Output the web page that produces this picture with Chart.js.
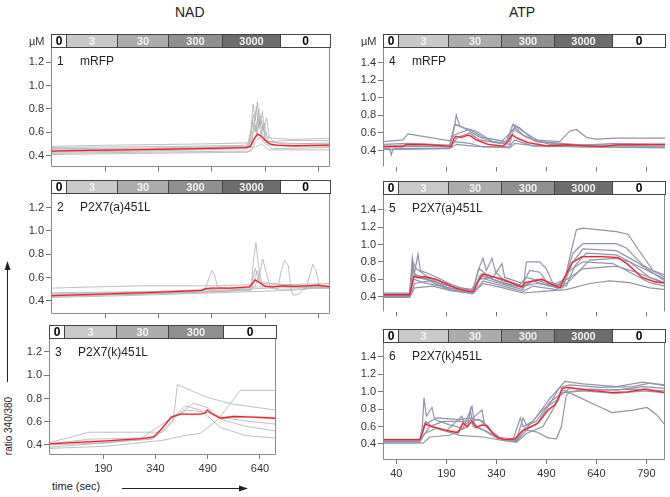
<!DOCTYPE html>
<html>
<head>
<meta charset="utf-8">
<script src="https://cdn.jsdelivr.net/npm/chart.js@4.4.0/dist/chart.umd.min.js"></script>
<style>
body { margin: 0; background: #fff; font-family: Arial, "Liberation Sans", sans-serif; }
#page { position: relative; width: 670px; height: 497px; overflow: hidden; background: #fff; }
.txt { position: absolute; color: #222; white-space: nowrap; }
</style>
</head>
<body>
<div id="page">
  <div class="txt" style="left:175px;top:4px;font-size:14px;">NAD</div>
  <div class="txt" style="left:509px;top:4px;font-size:14px;">ATP</div>
  <div class="txt" style="left:0px;top:426px;font-size:10px;transform-origin:0 0;transform:rotate(-90deg) translate(-32px, 3px);width:64px;text-align:center;">ratio 340/380</div>
  <div class="txt" style="left:52px;top:480px;font-size:11px;">time (sec)</div>
  <svg style="position:absolute;left:0;top:0" width="670" height="497">
    <line x1="7.5" y1="382" x2="7.5" y2="268" stroke="#222" stroke-width="1"/>
    <polygon points="7.5,261 4.5,270 10.5,270" fill="#222"/>
    <line x1="122" y1="488.5" x2="241" y2="488.5" stroke="#222" stroke-width="1"/>
    <polygon points="248,488.5 239,485.5 239,491.5" fill="#222"/>
  </svg>
</div>
<script>
// Concentration steps (µM) and their time limits (sec)
const nadSteps = ['0', '3', '30', '300', '3000', '0'];
const nadBounds = [38, 80, 223, 367, 518, 681, 822];
const nad3Steps = ['0', '3', '30', '300', '0'];
const nad3Bounds = [34, 77, 227, 377, 533, 686];
const atpSteps = ['0', '3', '30', '300', '3000', '0'];
const atpBounds = [0, 45, 195, 355, 513, 688, 846];

// Tick labels
const leftYTicks = [0.4, 0.6, 0.8, 1.0, 1.2];
const rightYTicks = [0.4, 0.6, 0.8, 1.0, 1.2, 1.4];
const nadXTicks = [190, 340, 490, 640, 790];
const nad3XTicks = [190, 340, 490, 640];
const atpXTicks = [40, 190, 340, 490, 640, 790];

// Panel 1: NAD, mRFP  ([time, ratio])
const nad1Mean = [[38,0.44],[150,0.445],[300,0.452],[450,0.46],[585,0.47],[598,0.48],[608,0.54],[618,0.585],[628,0.57],[640,0.53],[655,0.50],[670,0.49],[720,0.485],[822,0.49]];
const nad1Cells = [
  [[38,0.47],[200,0.475],[400,0.48],[590,0.49],[600,0.62],[606,0.84],[612,0.70],[618,0.86],[625,0.66],[632,0.78],[640,0.55],[650,0.52],[700,0.53],[822,0.53]],
  [[38,0.43],[300,0.44],[590,0.46],[600,0.58],[607,0.75],[614,0.62],[622,0.80],[630,0.60],[645,0.50],[700,0.48],[822,0.49]],
  [[38,0.45],[250,0.455],[500,0.47],[595,0.48],[604,0.70],[612,0.60],[620,0.72],[628,0.58],[638,0.68],[648,0.52],[700,0.50],[822,0.51]],
  [[38,0.42],[300,0.43],[600,0.44],[612,0.52],[625,0.56],[640,0.50],[660,0.46],[822,0.47]],
  [[38,0.48],[200,0.49],[450,0.50],[598,0.51],[610,0.66],[618,0.60],[626,0.74],[634,0.64],[645,0.56],[660,0.55],[720,0.54],[822,0.55]],
  [[38,0.41],[300,0.42],[590,0.43],[610,0.47],[630,0.50],[650,0.45],[822,0.45]],
  [[38,0.44],[250,0.45],[500,0.46],[600,0.47],[608,0.64],[615,0.82],[621,0.64],[629,0.70],[640,0.55],[655,0.49],[822,0.48]],
  [[38,0.46],[300,0.465],[600,0.48],[614,0.58],[622,0.68],[634,0.62],[644,0.72],[652,0.55],[670,0.51],[822,0.50]]
];

// Panel 2: NAD, P2X7(a)451L
const nad2Mean = [[38,0.445],[200,0.46],[350,0.475],[460,0.49],[472,0.505],[490,0.51],[540,0.51],[595,0.52],[604,0.55],[612,0.58],[622,0.56],[640,0.525],[660,0.52],[690,0.53],[720,0.525],[760,0.53],[790,0.535],[822,0.52]];
const nad2Cells = [
  [[38,0.46],[200,0.47],[350,0.48],[470,0.49],[480,0.58],[490,0.66],[498,0.62],[506,0.52],[560,0.50],[600,0.52],[822,0.53]],
  [[38,0.44],[300,0.46],[500,0.48],[600,0.50],[607,0.75],[614,0.90],[621,0.70],[630,0.56],[660,0.52],[822,0.51]],
  [[38,0.47],[300,0.48],[500,0.50],[610,0.52],[622,0.60],[633,0.76],[642,0.65],[652,0.54],[822,0.52]],
  [[38,0.45],[300,0.46],[500,0.49],[650,0.51],[675,0.50],[685,0.66],[695,0.75],[705,0.70],[712,0.50],[720,0.45],[735,0.46],[750,0.51],[822,0.52]],
  [[38,0.43],[300,0.45],[500,0.47],[700,0.49],[755,0.50],[765,0.62],[774,0.715],[783,0.66],[792,0.53],[822,0.52]],
  [[38,0.51],[150,0.52],[300,0.53],[500,0.53],[600,0.54],[612,0.68],[622,0.56],[700,0.54],[822,0.55]],
  [[38,0.44],[400,0.47],[600,0.49],[610,0.60],[618,0.66],[628,0.54],[680,0.50],[822,0.51]]
];

// Panel 3: NAD, P2X7(k)451L
const nad3Mean = [[34,0.41],[100,0.42],[200,0.435],[300,0.455],[335,0.47],[355,0.53],[385,0.64],[412,0.665],[470,0.665],[482,0.675],[489,0.70],[497,0.68],[507,0.66],[527,0.63],[564,0.645],[622,0.64],[686,0.63]];
const nad3Cells = [
  [[34,0.42],[100,0.47],[150,0.51],[360,0.51],[390,0.60],[403,0.92],[440,0.87],[489,0.81],[500,0.80],[564,0.75],[686,0.70]],
  [[34,0.38],[200,0.42],[330,0.45],[360,0.52],[400,0.65],[449,0.76],[489,0.72],[530,0.62],[600,0.56],[686,0.52]],
  [[34,0.40],[200,0.42],[330,0.46],[370,0.58],[426,0.735],[470,0.70],[527,0.55],[600,0.48],[686,0.46]],
  [[34,0.37],[200,0.39],[360,0.44],[420,0.48],[469,0.50],[520,0.62],[584,0.87],[686,0.87]],
  [[34,0.41],[150,0.45],[300,0.46],[380,0.62],[430,0.70],[489,0.68],[540,0.63],[620,0.60],[686,0.58]]
];

// Panel 4: ATP, mRFP
const atp4Mean = [[0,0.445],[60,0.445],[70,0.47],[120,0.47],[195,0.45],[205,0.445],[212,0.53],[218,0.56],[235,0.55],[255,0.575],[265,0.56],[280,0.52],[315,0.47],[360,0.45],[375,0.50],[387,0.58],[402,0.54],[435,0.49],[495,0.45],[555,0.465],[600,0.455],[657,0.445],[705,0.465],[846,0.47]];
const atp4Cells = [
  [[0,0.45],[70,0.46],[200,0.44],[212,0.62],[220,0.80],[230,0.68],[260,0.62],[290,0.55],[330,0.50],[370,0.48],[385,0.62],[395,0.66],[420,0.58],[460,0.50],[540,0.47],[650,0.45],[720,0.47],[846,0.46]],
  [[0,0.50],[60,0.52],[75,0.59],[120,0.56],[200,0.51],[215,0.58],[260,0.64],[300,0.55],[370,0.50],[390,0.70],[410,0.66],[450,0.52],[530,0.50],[560,0.62],[580,0.64],[610,0.55],[640,0.53],[700,0.54],[846,0.54]],
  [[0,0.42],[20,0.42],[25,0.35],[30,0.42],[200,0.43],[215,0.50],[260,0.48],[300,0.44],[380,0.45],[395,0.52],[450,0.45],[846,0.43]],
  [[0,0.41],[200,0.42],[220,0.47],[270,0.45],[380,0.43],[395,0.48],[440,0.46],[600,0.44],[846,0.44]],
  [[0,0.47],[75,0.48],[200,0.46],[215,0.70],[240,0.66],[280,0.62],[330,0.50],[380,0.47],[395,0.68],[420,0.62],[470,0.50],[600,0.46],[700,0.48],[846,0.47]],
  [[0,0.44],[200,0.45],[225,0.55],[260,0.60],[290,0.52],[350,0.48],[392,0.64],[430,0.55],[500,0.47],[846,0.45]]
];

// Panel 5: ATP, P2X7(a)451L
const atp5Mean = [[0,0.42],[80,0.42],[88,0.56],[92,0.63],[105,0.62],[125,0.63],[156,0.60],[195,0.54],[216,0.50],[255,0.46],[272,0.46],[285,0.57],[300,0.66],[327,0.63],[357,0.60],[396,0.54],[417,0.51],[426,0.56],[456,0.58],[477,0.60],[507,0.54],[531,0.50],[546,0.63],[567,0.79],[597,0.86],[657,0.86],[705,0.85],[735,0.77],[777,0.62],[816,0.57],[846,0.555]];
const atp5Cells = [
  [[0,0.41],[80,0.41],[90,0.70],[100,0.62],[150,0.58],[195,0.50],[270,0.45],[290,0.64],[310,0.62],[360,0.56],[420,0.50],[450,0.58],[500,0.52],[540,0.50],[560,0.85],[580,1.17],[600,1.19],[700,1.15],[735,1.12],[770,0.92],[810,0.70],[846,0.65]],
  [[0,0.43],[80,0.43],[88,0.85],[95,0.65],[108,0.62],[160,0.60],[200,0.52],[270,0.47],[285,0.70],[300,0.84],[310,0.70],[327,0.84],[338,0.68],[360,0.60],[420,0.52],[460,0.60],[520,0.55],[545,0.60],[570,0.90],[600,1.01],[700,1.01],[730,0.96],[780,0.76],[846,0.62]],
  [[0,0.40],[80,0.40],[90,0.58],[105,0.89],[112,0.70],[140,0.66],[200,0.55],[260,0.46],[290,0.60],[330,0.62],[357,0.78],[365,0.62],[420,0.55],[440,0.70],[470,0.68],[495,0.55],[540,0.52],[570,0.80],[600,0.95],[700,0.93],[760,0.80],[846,0.58]],
  [[0,0.39],[80,0.39],[95,0.50],[150,0.52],[200,0.47],[270,0.44],[300,0.55],[360,0.50],[420,0.44],[480,0.46],[550,0.48],[620,0.55],[680,0.58],[740,0.56],[800,0.50],[846,0.48]],
  [[0,0.42],[80,0.42],[90,0.80],[100,0.72],[130,0.64],[200,0.48],[270,0.44],[295,0.66],[340,0.58],[400,0.50],[430,0.62],[470,0.58],[520,0.50],[560,0.70],[600,0.80],[690,0.78],[740,0.68],[800,0.56],[846,0.52]],
  [[0,0.41],[80,0.41],[92,0.60],[120,0.56],[200,0.50],[270,0.45],[290,0.62],[350,0.55],[420,0.48],[430,0.80],[470,0.80],[490,0.72],[510,0.55],[550,0.52],[575,0.75],[610,0.90],[700,0.88],[750,0.78],[846,0.60]],
  [[0,0.44],[80,0.44],[88,0.75],[96,0.66],[130,0.60],[200,0.52],[270,0.48],[288,0.72],[310,0.66],[360,0.58],[420,0.52],[460,0.55],[520,0.52],[560,0.62],[600,0.72],[700,0.75],[760,0.68],[846,0.55]],
  [[0,0.40],[80,0.40],[95,0.55],[140,0.58],[200,0.47],[270,0.43],[300,0.58],[360,0.52],[420,0.46],[450,0.52],[520,0.48],[560,0.58],[620,0.82],[700,0.84],[740,0.80],[800,0.62],[846,0.56]]
];

// Panel 6: ATP, P2X7(k)451L
const atp6Mean = [[0,0.45],[111,0.45],[120,0.55],[126,0.63],[146,0.60],[186,0.56],[225,0.53],[240,0.64],[252,0.60],[267,0.66],[280,0.59],[297,0.62],[312,0.61],[330,0.52],[345,0.47],[366,0.45],[396,0.46],[417,0.55],[435,0.58],[465,0.64],[495,0.79],[516,0.85],[525,0.91],[537,1.04],[555,1.05],[615,1.02],[687,0.99],[735,1.00],[786,1.03],[846,0.99]];
const atp6Cells = [
  [[0,0.43],[110,0.43],[118,0.60],[123,0.93],[130,0.72],[147,0.82],[155,0.68],[200,0.62],[240,0.58],[267,0.83],[275,0.62],[300,0.56],[345,0.46],[400,0.44],[420,0.55],[440,0.62],[480,0.80],[520,0.90],[540,1.02],[570,0.97],[620,0.88],[687,0.76],[750,0.79],[792,0.82],[820,0.74],[846,0.62]],
  [[0,0.44],[110,0.44],[125,0.62],[160,0.70],[230,0.68],[260,0.70],[300,0.66],[330,0.52],[360,0.45],[400,0.44],[420,0.70],[430,0.62],[450,0.66],[500,0.92],[530,1.05],[545,1.12],[600,1.09],[700,1.06],[780,1.11],[846,1.07]],
  [[0,0.42],[110,0.42],[125,0.52],[160,0.58],[230,0.50],[300,0.48],[360,0.44],[400,0.43],[430,0.56],[460,0.54],[495,0.47],[520,0.46],[535,0.60],[550,0.96],[560,1.0],[620,1.03],[700,1.02],[780,1.06],[846,1.04]],
  [[0,0.45],[110,0.45],[128,0.66],[147,0.60],[190,0.55],[237,0.72],[245,0.62],[297,0.79],[305,0.62],[340,0.48],[400,0.45],[425,0.58],[460,0.62],[500,0.86],[530,1.05],[560,1.08],[650,1.05],[750,1.06],[800,1.10],[846,1.08]],
  [[0,0.43],[110,0.43],[140,0.60],[180,0.66],[240,0.66],[290,0.68],[320,0.56],[360,0.45],[390,0.45],[412,0.70],[420,0.60],[460,0.66],[500,0.88],[540,0.99],[600,1.01],[700,0.98],[780,1.01],[846,0.99]],
  [[0,0.41],[120,0.41],[140,0.48],[200,0.50],[255,0.60],[262,0.80],[270,0.60],[310,0.55],[360,0.44],[400,0.42],[430,0.52],[480,0.60],[510,0.80],[530,0.95],[560,1.04],[650,1.02],[750,1.03],[846,1.01]]
];

Chart.defaults.font.family = 'Arial, "Liberation Sans", sans-serif';

const stepColors = { '0': '#ffffff', '3': '#c9c9c9', '30': '#acacac', '300': '#8f8f8f', '3000': '#6d6d6d' };
const leftCell = { color: '#b0b0b0', width: 0.8 };
const rightCell = { color: '#9294ab', width: 1.2 };

const panels = [
  { box: [51, 47, 330, 168], x: [38, 822], y: [0.30, 1.33], yTicks: leftYTicks, xTicks: nadXTicks, xLabels: false,
    steps: nadSteps, bounds: nadBounds, num: '1', name: 'mRFP', unit: true, frame: 'box', mean: nad1Mean, cells: nad1Cells, cell: leftCell },
  { box: [51, 193, 330, 315], x: [38, 822], y: [0.285, 1.325], yTicks: leftYTicks, xTicks: nadXTicks, xLabels: false,
    steps: nadSteps, bounds: nadBounds, num: '2', name: 'P2X7(a)451L', unit: false, frame: 'box', mean: nad2Mean, cells: nad2Cells, cell: leftCell },
  { box: [49, 338, 276, 455], x: [34, 686], y: [0.314, 1.32], yTicks: leftYTicks, xTicks: nad3XTicks, xLabels: true,
    steps: nad3Steps, bounds: nad3Bounds, num: '3', name: 'P2X7(k)451L', unit: false, frame: 'box', mean: nad3Mean, cells: nad3Cells, cell: leftCell },
  { box: [383, 47, 665, 168], x: [0, 846], y: [0.207, 1.58], yTicks: rightYTicks, xTicks: atpXTicks, xLabels: false,
    steps: atpSteps, bounds: atpBounds, num: '4', name: 'mRFP', unit: true, frame: 'left', mean: atp4Mean, cells: atp4Cells, cell: rightCell },
  { box: [383, 194, 665, 313], x: [0, 846], y: [0.216, 1.584], yTicks: rightYTicks, xTicks: atpXTicks, xLabels: false,
    steps: atpSteps, bounds: atpBounds, num: '5', name: 'P2X7(a)451L', unit: false, frame: 'leftright', mean: atp5Mean, cells: atp5Cells, cell: rightCell },
  { box: [383, 342, 665, 460], x: [0, 846], y: [0.216, 1.572], yTicks: rightYTicks, xTicks: atpXTicks, xLabels: true,
    steps: atpSteps, bounds: atpBounds, num: '6', name: 'P2X7(k)451L', unit: false, frame: 'box', mean: atp6Mean, cells: atp6Cells, cell: rightCell }
];

function toPts(arr) {
  return arr.map(p => ({ x: p[0], y: p[1] }));
}

// Frame, concentration strip and panel label
function decoPlugin(p) {
  return {
    id: 'deco',
    afterDraw(chart) {
      const ctx = chart.ctx;
      const a = chart.chartArea;
      const xs = chart.scales.x;
      const L = Math.round(a.left) + 0.5, R = Math.round(a.right) - 0.5;
      const T = Math.round(a.top) + 0.5, B = Math.round(a.bottom) - 0.5;
      ctx.save();
      ctx.strokeStyle = '#8a8a8a';
      ctx.lineWidth = 1;
      ctx.beginPath();
      ctx.moveTo(L, T); ctx.lineTo(L, B);
      if (p.frame === 'box') {
        ctx.lineTo(R, B); ctx.lineTo(R, T);
      }
      if (p.frame === 'leftright') {
        ctx.moveTo(R, T); ctx.lineTo(R, B);
      }
      ctx.stroke();

      // strip
      const sTop = T - 13;
      ctx.textAlign = 'center';
      ctx.textBaseline = 'middle';
      for (let i = 0; i < p.steps.length; i++) {
        const x0 = Math.round(xs.getPixelForValue(p.bounds[i])) + 0.5;
        const x1 = Math.round(xs.getPixelForValue(p.bounds[i + 1])) + 0.5;
        const s = p.steps[i];
        ctx.fillStyle = stepColors[s];
        ctx.fillRect(x0, sTop, x1 - x0, 13);
        ctx.strokeStyle = '#444';
        ctx.strokeRect(x0, sTop, x1 - x0, 13);
        if (s === '0') {
          ctx.fillStyle = '#000';
          ctx.font = 'bold 12px Arial, "Liberation Sans", sans-serif';
        } else {
          ctx.fillStyle = '#f2f2f2';
          ctx.font = 'bold 11px Arial, "Liberation Sans", sans-serif';
        }
        ctx.fillText(s, (x0 + x1) / 2, sTop + 7);
      }
      if (p.unit) {
        ctx.fillStyle = '#333';
        ctx.font = '11px Arial, "Liberation Sans", sans-serif';
        ctx.textAlign = 'right';
        ctx.fillText('µM', L - 7, sTop + 7);
      }

      // panel label
      ctx.fillStyle = '#222';
      ctx.font = '12px Arial, "Liberation Sans", sans-serif';
      ctx.textAlign = 'left';
      ctx.textBaseline = 'alphabetic';
      ctx.fillText(p.num, a.left + 6, a.top + 18);
      ctx.fillText(p.name, a.left + 29, a.top + 18);
      ctx.restore();
    }
  };
}

function buildPanel(p) {
  const page = document.getElementById('page');
  const xh = p.xLabels ? 24 : 8;
  const left = p.box[0] - 36, top = p.box[1] - 17;
  const w = p.box[2] + 4 - left, h = p.box[3] + xh - top;
  const canvas = document.createElement('canvas');
  canvas.width = w;
  canvas.height = h;
  canvas.style.cssText = 'position:absolute;left:' + left + 'px;top:' + top + 'px;width:' + w + 'px;height:' + h + 'px';
  page.appendChild(canvas);

  const datasets = [];
  datasets.push({ data: toPts(p.mean), borderColor: '#e3262f', borderWidth: 1.3, order: 0 });
  datasets.push({ data: toPts(p.mean), borderColor: 'rgba(240,150,160,0.35)', borderWidth: 2.6, order: 1 });
  p.cells.forEach(c => {
    datasets.push({ data: toPts(c), borderColor: p.cell.color, borderWidth: p.cell.width, order: 2 });
  });

  new Chart(canvas, {
    type: 'line',
    data: { datasets: datasets },
    options: {
      responsive: false,
      animation: false,
      layout: { padding: { top: 17, right: 4, left: 0, bottom: 0 } },
      elements: { point: { radius: 0 }, line: { tension: 0 } },
      plugins: { legend: { display: false }, tooltip: { enabled: false } },
      scales: {
        x: {
          type: 'linear', min: p.x[0], max: p.x[1],
          afterBuildTicks: s => { s.ticks = p.xTicks.map(v => ({ value: v })); },
          afterFit: s => { s.height = xh; },
          grid: { drawOnChartArea: false, drawTicks: true, tickLength: 4, color: '#777' },
          border: { display: false },
          ticks: { display: p.xLabels, padding: 3, color: '#333', font: { size: 11 }, maxRotation: 0 }
        },
        y: {
          type: 'linear', min: p.y[0], max: p.y[1],
          afterBuildTicks: s => { s.ticks = p.yTicks.map(v => ({ value: v })); },
          afterFit: s => { s.width = 36; },
          grid: { drawOnChartArea: false, drawTicks: true, tickLength: 5, color: '#777' },
          border: { display: false },
          ticks: { padding: 2, color: '#333', font: { size: 11 }, callback: v => v.toFixed(1) }
        }
      }
    },
    plugins: [decoPlugin(p)]
  });
}

panels.forEach(buildPanel);
</script>
</body>
</html>
